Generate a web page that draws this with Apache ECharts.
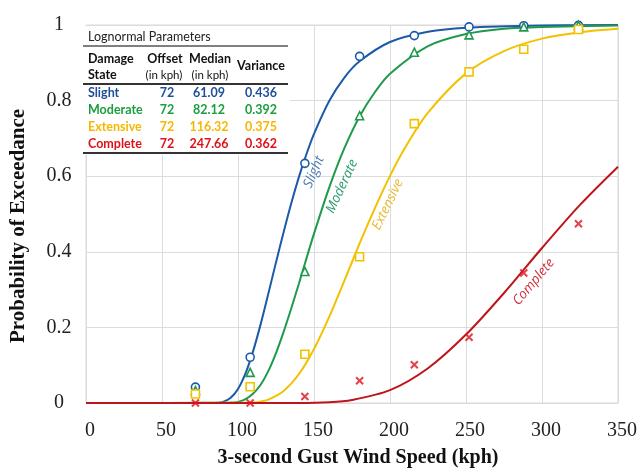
<!DOCTYPE html>
<html>
<head>
<meta charset="utf-8">
<script src="https://cdn.jsdelivr.net/npm/echarts@6/dist/echarts.min.js"></script>
<style>
html,body{margin:0;padding:0;background:#fff;}
#chart{width:640px;height:473px;}
</style>
</head>
<body>
<div id="chart"></div>
<script>
// ---- Data ----
var xTicks = [0, 50, 100, 150, 200, 250, 300, 350];
var yTicks = [0, 0.2, 0.4, 0.6, 0.8, 1];

// observed points (wind speed in kph)
var speeds = [72, 108, 144, 180, 216, 252, 288, 324];
var slightObs    = [0.042, 0.121, 0.634, 0.917, 0.972, 0.995, 0.998, 0.999];
var moderateObs  = [0.033, 0.081, 0.348, 0.760, 0.928, 0.974, 0.995, 0.999];
var extensiveObs = [0.024, 0.043, 0.129, 0.387, 0.739, 0.876, 0.936, 0.988];
var completeObs  = [0.000, 0.000, 0.017, 0.059, 0.101, 0.174, 0.344, 0.474];

// fitted curves
var slightX = [0, 85, 90, 95, 100, 105, 110, 115, 120, 125, 130, 135, 140, 145, 150, 160, 170, 180, 200, 225, 250, 300, 350];
var slightY = [0, 0, 0.003, 0.013, 0.037, 0.079, 0.138, 0.21, 0.29, 0.372, 0.452, 0.528, 0.597, 0.658, 0.712, 0.799, 0.861, 0.904, 0.955, 0.982, 0.993, 0.999, 1.0];
var moderateX = [0, 95, 100, 105, 110, 115, 120, 125, 130, 135, 140, 145, 150, 160, 170, 180, 190, 200, 225, 250, 275, 300, 350];
var moderateY = [0, 0.001, 0.003, 0.01, 0.025, 0.049, 0.085, 0.132, 0.188, 0.25, 0.315, 0.382, 0.448, 0.57, 0.674, 0.758, 0.822, 0.871, 0.944, 0.976, 0.99, 0.995, 0.999];
var extensiveX = [0, 110, 115, 120, 130, 140, 150, 160, 170, 180, 190, 200, 210, 225, 250, 275, 300, 325, 350];
var extensiveY = [0, 0.001, 0.004, 0.009, 0.032, 0.076, 0.143, 0.228, 0.324, 0.422, 0.515, 0.601, 0.676, 0.768, 0.872, 0.931, 0.964, 0.981, 0.99];
var completeX = [0, 140, 160, 175, 200, 225, 250, 275, 300, 325, 350];
var completeY = [0, 0, 0.002, 0.008, 0.034, 0.092, 0.181, 0.291, 0.41, 0.524, 0.625];

// parameter table
var tableStates  = ['Slight', 'Moderate', 'Extensive', 'Complete'];
var tableOffset  = ['72', '72', '72', '72'];
var tableMedian  = ['61.09', '82.12', '116.32', '247.66'];
var tableVar     = ['0.436', '0.392', '0.375', '0.362'];

// curve labels: [text, x, y, angle]
var curveLabelText = ['Slight', 'Moderate', 'Extensive', 'Complete'];
var curveLabelPos  = [[150, 0.611], [168.4, 0.573], [198.6, 0.525], [294.5, 0.32]];
var curveLabelAng  = [67, 65, 64, 50];

// ---- Styles ----
var lineColors  = ['#1c5aa8', '#1f9a4c', '#f2c200', '#c0141c'];
var tableColors = ['#1f4e99', '#1a9e3f', '#f5b800', '#e0101a'];
var labelColors = ['#4a78b0', '#2a9a6a', '#e8b830', '#d03040'];

function zip(xs, ys) { return xs.map(function (x, i) { return [x, ys[i]]; }); }

var chart = echarts.init(document.getElementById('chart'), null, {renderer: 'canvas'});

var serif = '"Liberation Serif", "Times New Roman", serif';
var sans = 'Lato, "Open Sans", sans-serif';

function lineSeries(name, xs, ys, color) {
  return {
    name: name, type: 'line', data: zip(xs, ys), showSymbol: false,
    smooth: 0.3,
    lineStyle: {color: color, width: 2}, z: 3, silent: true
  };
}
function obsSeries(name, ys, color, symbol, size) {
  return {
    name: name + ' obs', type: 'scatter', data: zip(speeds, ys),
    symbol: symbol, symbolSize: size,
    itemStyle: {color: '#ffffff', borderColor: color, borderWidth: 1.6, opacity: 1},
    z: 4, silent: true
  };
}
var xPath = 'path://M0,0L10,10M10,0L0,10';

var option = {
  animation: false,
  backgroundColor: '#ffffff',
  grid: {left: 83, right: 16, top: 25, bottom: 66, show: true, borderColor: '#d9d9d9', borderWidth: 1},
  xAxis: {
    type: 'value', min: 0, max: 350, interval: 50,
    name: '3-second Gust Wind Speed (kph)', nameLocation: 'middle', nameGap: 45,
    nameTextStyle: {fontFamily: serif, fontWeight: 'bold', fontSize: 20, color: '#111', padding: [0, 0, 0, 12]},
    axisLine: {show: false}, axisTick: {show: false},
    axisLabel: {fontFamily: serif, fontSize: 20, color: '#222', margin: 18, padding: [0, 0, 0, 8]},
    splitLine: {show: true, lineStyle: {color: '#dcdcdc', width: 1}}
  },
  yAxis: {
    type: 'value', min: 0, max: 1, interval: 0.2,
    name: 'Probability of Exceedance', nameLocation: 'middle', nameGap: 57,
    nameTextStyle: {fontFamily: serif, fontWeight: 'bold', fontSize: 21, color: '#111', padding: [0, 24, 0, 0]},
    axisLine: {show: false}, axisTick: {show: false},
    axisLabel: {fontFamily: serif, fontSize: 20, color: '#222', margin: 27, align: 'center'},
    splitLine: {show: true, lineStyle: {color: '#dcdcdc', width: 1}}
  },
  series: [
    lineSeries('Slight', slightX, slightY, lineColors[0]),
    lineSeries('Moderate', moderateX, moderateY, lineColors[1]),
    lineSeries('Extensive', extensiveX, extensiveY, lineColors[2]),
    lineSeries('Complete', completeX, completeY, lineColors[3]),
    obsSeries('Slight', slightObs, lineColors[0], 'circle', 8),
    obsSeries('Moderate', moderateObs, lineColors[1], 'triangle', 8),
    obsSeries('Extensive', extensiveObs, lineColors[2], 'rect', 8),
    {
      name: 'Complete obs', type: 'scatter', data: zip(speeds, completeObs),
      symbol: xPath, symbolSize: 7,
      itemStyle: {color: 'rgba(0,0,0,0)', borderColor: tableColors[3], borderWidth: 2},
      z: 5, silent: true
    }
  ]
};
chart.setOption(option);

// ---- table + curve labels as graphics ----
var g = [];
g.push({type: 'rect', shape: {x: 83, y: 26, width: 207, height: 129}, style: {fill: '#ffffff'}, z: 10});
g.push({type: 'text', x: 88, y: 37, z: 11, style: {text: 'Lognormal Parameters', font: '12.5px ' + sans, fill: '#222', textVerticalAlign: 'middle'}});
g.push({type: 'line', shape: {x1: 83, y1: 46, x2: 288, y2: 46}, style: {stroke: '#555', lineWidth: 1.5}, z: 11});
g.push({type: 'text', x: 88, y: 59, z: 11, style: {text: 'Damage', font: 'bold 12.5px ' + sans, fill: '#111', textVerticalAlign: 'middle'}});
g.push({type: 'text', x: 88, y: 75, z: 11, style: {text: 'State', font: 'bold 12.5px ' + sans, fill: '#111', textVerticalAlign: 'middle'}});
g.push({type: 'text', x: 165, y: 59, z: 11, style: {text: 'Offset', font: 'bold 12.5px ' + sans, fill: '#111', textAlign: 'center', textVerticalAlign: 'middle'}});
g.push({type: 'text', x: 164, y: 75, z: 11, style: {text: '(in kph)', font: '11.5px ' + sans, fill: '#111', textAlign: 'center', textVerticalAlign: 'middle'}});
g.push({type: 'text', x: 210, y: 59, z: 11, style: {text: 'Median', font: 'bold 12.5px ' + sans, fill: '#111', textAlign: 'center', textVerticalAlign: 'middle'}});
g.push({type: 'text', x: 210, y: 75, z: 11, style: {text: '(in kph)', font: '11.5px ' + sans, fill: '#111', textAlign: 'center', textVerticalAlign: 'middle'}});
g.push({type: 'text', x: 261, y: 66, z: 11, style: {text: 'Variance', font: 'bold 12.5px ' + sans, fill: '#111', textAlign: 'center', textVerticalAlign: 'middle'}});
g.push({type: 'line', shape: {x1: 83, y1: 84, x2: 288, y2: 84}, style: {stroke: '#333', lineWidth: 2}, z: 11});
var rowY = [93, 110, 127, 144];
tableStates.forEach(function (s, i) {
  var f = 'bold 12.5px ' + sans, c = tableColors[i];
  g.push({type: 'text', x: 88, y: rowY[i], z: 11, style: {text: s, font: f, fill: c, textVerticalAlign: 'middle'}});
  g.push({type: 'text', x: 167, y: rowY[i], z: 11, style: {text: tableOffset[i], font: f, fill: c, textAlign: 'center', textVerticalAlign: 'middle'}});
  g.push({type: 'text', x: 209, y: rowY[i], z: 11, style: {text: tableMedian[i], font: f, fill: c, textAlign: 'center', textVerticalAlign: 'middle'}});
  g.push({type: 'text', x: 261, y: rowY[i], z: 11, style: {text: tableVar[i], font: f, fill: c, textAlign: 'center', textVerticalAlign: 'middle'}});
});
g.push({type: 'line', shape: {x1: 83, y1: 153, x2: 288, y2: 153}, style: {stroke: '#333', lineWidth: 2}, z: 11});

curveLabelText.forEach(function (t, i) {
  var p = chart.convertToPixel({gridIndex: 0}, curveLabelPos[i]);
  g.push({type: 'text', x: p[0], y: p[1], rotation: curveLabelAng[i] * Math.PI / 180, z: 12,
    style: {text: t, font: 'italic 13.5px "Open Sans", sans-serif', fill: labelColors[i], textAlign: 'center', textVerticalAlign: 'middle'}});
});
chart.setOption({graphic: g});
</script>
</body>
</html>
